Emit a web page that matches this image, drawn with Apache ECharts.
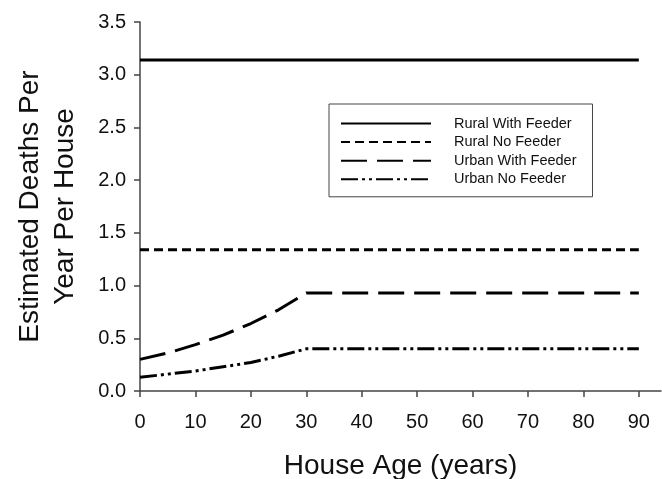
<!DOCTYPE html>
<html>
<head>
<meta charset="utf-8">
<script src="https://cdn.jsdelivr.net/npm/echarts@6/dist/echarts.min.js"></script>
<style>html,body{margin:0;padding:0;background:#fff}#c{width:662px;height:479px}</style>
</head>
<body>
<div id="c"></div>
<script>
var seriesNames = ['Rural With Feeder', 'Rural No Feeder', 'Urban With Feeder', 'Urban No Feeder'];
var ruralAges = [0, 90];
var ruralWithFeeder = [3.14, 3.14];
var ruralNoFeeder = [1.34, 1.34];
var urbanAges = [0, 5, 10, 15, 20, 25, 30, 90];
var urbanWithFeeder = [0.30, 0.36, 0.44, 0.53, 0.64, 0.77, 0.93, 0.93];
var urbanNoFeeder = [0.13, 0.16, 0.19, 0.23, 0.27, 0.33, 0.40, 0.40];
var xTicks = [0, 10, 20, 30, 40, 50, 60, 70, 80, 90];
var yTicks = [0, 0.5, 1, 1.5, 2, 2.5, 3, 3.5];

function pairs(xs, ys) { return xs.map(function (x, i) { return [x, ys[i]]; }); }

var FONT = 'Liberation Sans, Arial, sans-serif';
var chart = echarts.init(document.getElementById('c'), null, {renderer: 'canvas'});
var dashes = ['solid', [9, 5], [26, 10], [17, 4, 3, 4, 3, 4]];
var datas = [pairs(ruralAges, ruralWithFeeder), pairs(ruralAges, ruralNoFeeder),
             pairs(urbanAges, urbanWithFeeder), pairs(urbanAges, urbanNoFeeder)];

chart.setOption({
  animation: false,
  backgroundColor: '#fff',
  grid: {left: 140, right: 1, top: 22, bottom: 88, containLabel: false, outerBoundsMode: 'none'},
  legend: {
    orient: 'vertical', left: 329, top: 104,
    itemWidth: 90, itemHeight: 14, itemGap: 3.6,
    padding: [12, 16, 10, 11],
    borderColor: '#444', borderWidth: 1,
    itemStyle: {opacity: 0},
    textStyle: {fontFamily: FONT, fontSize: 14.5, color: '#111', padding: [0, 0, 0, 18]},
    data: seriesNames
  },
  xAxis: {
    type: 'value', min: 0, max: 94,
    name: 'House Age (years)', nameLocation: 'middle', nameGap: 61,
    nameTextStyle: {fontFamily: FONT, fontSize: 28, color: '#111'},
    axisLine: {lineStyle: {color: '#444', width: 1.5}},
    axisTick: {length: 6, lineStyle: {color: '#444', width: 1.5}, customValues: xTicks},
    axisLabel: {fontFamily: FONT, fontSize: 20, color: '#111', margin: 21, customValues: xTicks},
    splitLine: {show: false}
  },
  yAxis: {
    type: 'value', min: 0, max: 3.5, interval: 0.5,
    name: 'Estimated Deaths Per\nYear Per House', nameLocation: 'middle', nameGap: 57,
    nameTextStyle: {fontFamily: FONT, fontSize: 28, color: '#111', lineHeight: 35, align: 'center'},
    axisLine: {show: true, lineStyle: {color: '#444', width: 1.5}},
    axisTick: {show: true, length: 6, lineStyle: {color: '#444', width: 1.5}, customValues: yTicks},
    axisLabel: {fontFamily: FONT, fontSize: 20, color: '#111', margin: 14, customValues: yTicks,
      formatter: function (v) { return v.toFixed(1); }},
    splitLine: {show: false}
  },
  series: seriesNames.map(function (n, i) {
    return {
      name: n, type: 'line', data: datas[i], symbol: 'none', showSymbol: false,
      lineStyle: {color: '#000', width: 3, type: dashes[i]},
      itemStyle: {color: 'rgba(0,0,0,0)'}
    };
  })
});
</script>
</body>
</html>
